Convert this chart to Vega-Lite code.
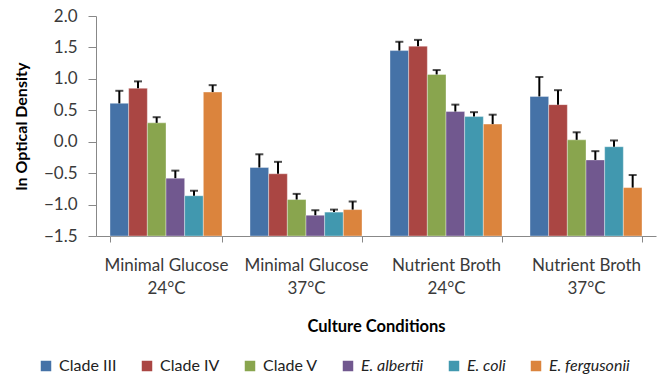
{
  "$schema": "https://vega.github.io/schema/vega-lite/v6.json",
  "width": 560,
  "height": 220,
  "autosize": {"type": "none"},
  "padding": {"left": 96, "top": 16, "right": 2, "bottom": 141},
  "background": "white",
  "config": {
    "view": {"stroke": null},
    "font": "Lato",
    "axis": {"labelFont": "Lato", "titleFont": "Lato", "domainColor": "#888888", "tickColor": "#888888", "labelColor": "#3a3a3a", "titleColor": "#000000"}
  },
  "data": {
    "values": [
      {"condition": "Minimal Glucose|24°C", "strain": "Clade III", "value": 0.61, "err": 0.81},
      {"condition": "Minimal Glucose|24°C", "strain": "Clade IV", "value": 0.85, "err": 0.96},
      {"condition": "Minimal Glucose|24°C", "strain": "Clade V", "value": 0.30, "err": 0.39},
      {"condition": "Minimal Glucose|24°C", "strain": "E. albertii", "value": -0.58, "err": -0.46},
      {"condition": "Minimal Glucose|24°C", "strain": "E. coli", "value": -0.86, "err": -0.78},
      {"condition": "Minimal Glucose|24°C", "strain": "E. fergusonii", "value": 0.79, "err": 0.90},
      {"condition": "Minimal Glucose|37°C", "strain": "Clade III", "value": -0.41, "err": -0.20},
      {"condition": "Minimal Glucose|37°C", "strain": "Clade IV", "value": -0.51, "err": -0.32},
      {"condition": "Minimal Glucose|37°C", "strain": "Clade V", "value": -0.92, "err": -0.83},
      {"condition": "Minimal Glucose|37°C", "strain": "E. albertii", "value": -1.17, "err": -1.09},
      {"condition": "Minimal Glucose|37°C", "strain": "E. coli", "value": -1.12, "err": -1.08},
      {"condition": "Minimal Glucose|37°C", "strain": "E. fergusonii", "value": -1.08, "err": -0.95},
      {"condition": "Nutrient Broth|24°C", "strain": "Clade III", "value": 1.45, "err": 1.59},
      {"condition": "Nutrient Broth|24°C", "strain": "Clade IV", "value": 1.52, "err": 1.62},
      {"condition": "Nutrient Broth|24°C", "strain": "Clade V", "value": 1.07, "err": 1.14},
      {"condition": "Nutrient Broth|24°C", "strain": "E. albertii", "value": 0.48, "err": 0.59},
      {"condition": "Nutrient Broth|24°C", "strain": "E. coli", "value": 0.40, "err": 0.47},
      {"condition": "Nutrient Broth|24°C", "strain": "E. fergusonii", "value": 0.28, "err": 0.43},
      {"condition": "Nutrient Broth|37°C", "strain": "Clade III", "value": 0.72, "err": 1.03},
      {"condition": "Nutrient Broth|37°C", "strain": "Clade IV", "value": 0.59, "err": 0.82},
      {"condition": "Nutrient Broth|37°C", "strain": "Clade V", "value": 0.03, "err": 0.15},
      {"condition": "Nutrient Broth|37°C", "strain": "E. albertii", "value": -0.29, "err": -0.15},
      {"condition": "Nutrient Broth|37°C", "strain": "E. coli", "value": -0.08, "err": 0.02},
      {"condition": "Nutrient Broth|37°C", "strain": "E. fergusonii", "value": -0.73, "err": -0.53}
    ]
  },
  "encoding": {
    "x": {
      "field": "condition",
      "type": "nominal",
      "sort": null,
      "scale": {"paddingInner": 0.2, "paddingOuter": 0.1},
      "axis": {
        "title": "Culture Conditions",
        "titleFontSize": 16.5,
        "titleFontWeight": "bold",
        "titlePadding": 22,
        "labelAngle": 0,
        "labelFontSize": 17,
        "labelExpr": "split(datum.label, '|')",
        "labelLineHeight": 23,
        "labelPadding": 15,
        "tickBand": "extent",
        "tickSize": 6,
        "labelBaseline": "top"
      }
    },
    "xOffset": {
      "field": "strain",
      "type": "nominal",
      "sort": ["Clade III", "Clade IV", "Clade V", "E. albertii", "E. coli", "E. fergusonii"],
      "scale": {"paddingInner": 0, "paddingOuter": 0}
    }
  },
  "layer": [
    {
      "mark": {"type": "bar", "stroke": "white", "strokeWidth": 0.6, "strokeOpacity": 0.6},
      "encoding": {
        "y": {
          "field": "value",
          "type": "quantitative",
          "scale": {"domain": [-1.5, 2.0], "nice": false, "zero": false},
          "axis": {
            "title": "ln Optical Density",
            "titleFontSize": 16,
            "titleFontWeight": "bold",
            "titlePadding": 14,
            "values": [-1.5, -1, -0.5, 0, 0.5, 1, 1.5, 2],
            "format": ".1f",
            "labelFontSize": 17,
            "labelOverlap": false,
            "labelBound": false,
            "grid": false,
            "tickSize": 8,
            "labelPadding": 11
          }
        },
        "y2": {"datum": -1.5},
        "color": {
          "field": "strain",
          "type": "nominal",
          "scale": {
            "domain": ["Clade III", "Clade IV", "Clade V", "E. albertii", "E. coli", "E. fergusonii"],
            "range": ["#4572A7", "#AA4643", "#89A54E", "#71588F", "#4198AF", "#DB843D"]
          },
          "legend": {
            "title": null,
            "orient": "none",
            "legendX": -58,
            "legendY": 342,
            "direction": "horizontal",
            "columns": 6,
            "columnPadding": 22,
            "symbolType": "square",
            "symbolSize": 110,
            "symbolStrokeWidth": 0,
            "labelFontSize": 16,
            "labelColor": "#222222",
            "labelOffset": 5,
            "labelFont": "Lato",
            "labelFontStyle": {"expr": "indexof(datum.label, 'E.') === 0 ? 'italic' : 'normal'"}
          }
        }
      }
    },
    {
      "mark": {"type": "rule", "color": "#000000", "strokeWidth": 2},
      "encoding": {
        "y": {
          "field": "value",
          "type": "quantitative",
          "axis": {
            "title": "ln Optical Density",
            "titleFontSize": 16,
            "titleFontWeight": "bold",
            "titlePadding": 14,
            "values": [-1.5, -1, -0.5, 0, 0.5, 1, 1.5, 2],
            "format": ".1f",
            "labelFontSize": 17,
            "labelOverlap": false,
            "labelBound": false,
            "grid": false,
            "tickSize": 8,
            "labelPadding": 11
          }
        },
        "y2": {"field": "err"}
      }
    },
    {
      "mark": {"type": "tick", "color": "#000000", "thickness": 2, "size": 8, "orient": "horizontal"},
      "encoding": {
        "y": {
          "field": "err",
          "type": "quantitative",
          "axis": {
            "title": "ln Optical Density",
            "titleFontSize": 16,
            "titleFontWeight": "bold",
            "titlePadding": 14,
            "values": [-1.5, -1, -0.5, 0, 0.5, 1, 1.5, 2],
            "format": ".1f",
            "labelFontSize": 17,
            "labelOverlap": false,
            "labelBound": false,
            "grid": false,
            "tickSize": 8,
            "labelPadding": 11
          }
        }
      }
    }
  ]
}
